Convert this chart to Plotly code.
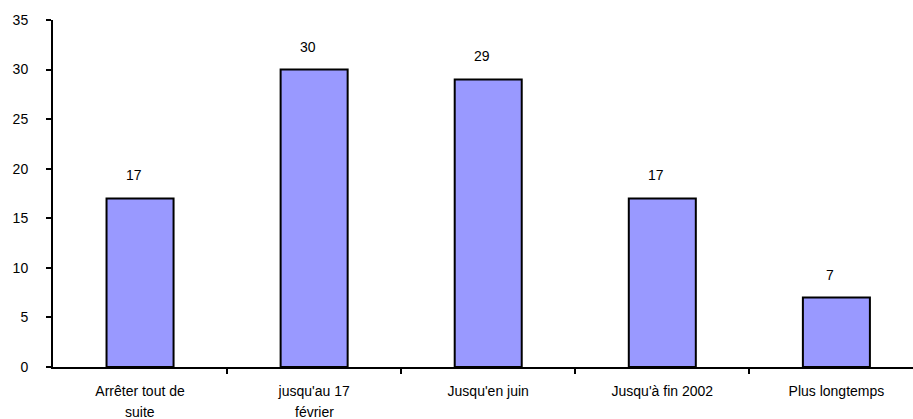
import plotly.graph_objects as go

categories = ["Arrêter tout de", "jusqu'au 17", "Jusqu'en juin", "Jusqu'à fin 2002", "Plus longtemps"]
second_lines = ["suite", "février", "", "", ""]
values = [17, 30, 29, 17, 7]
y_ticks = [0, 5, 10, 15, 20, 25, 30, 35]

FONT = "Liberation Sans, Arial, sans-serif"
FS = 14

fig = go.Figure()
fig.add_trace(go.Bar(
    x=list(range(len(categories))),
    y=values,
    width=0.385,
    marker=dict(color="#9999FF", line=dict(color="black", width=2)),
    hoverinfo="skip",
))

annotations = []
for i, v in enumerate(values):
    annotations.append(dict(
        x=i, y=v, xref="x", yref="y", text=str(v), showarrow=False,
        yshift=23, xshift=-6, font=dict(family=FONT, size=FS, color="black"),
    ))
for i, s in enumerate(second_lines):
    if s:
        annotations.append(dict(
            x=i, y=0, xref="x", yref="y", text=s, showarrow=False,
            yshift=-45, font=dict(family=FONT, size=FS, color="black"),
        ))

fig.update_layout(
    width=913, height=419,
    margin=dict(l=53, r=0, t=20, b=52, autoexpand=False),
    paper_bgcolor="white", plot_bgcolor="white",
    showlegend=False,
    annotations=annotations,
    xaxis=dict(
        range=[-0.5, 4.44],
        tickmode="array",
        tickvals=list(range(len(categories))),
        ticktext=categories,
        ticks="",
        showgrid=False, zeroline=False,
        showline=True, linecolor="black", linewidth=2,
        tickfont=dict(family=FONT, size=FS, color="black"),
        ticklabelstandoff=10,
        fixedrange=True,
    ),
    yaxis=dict(
        range=[0, 35],
        tickmode="array", tickvals=y_ticks,
        ticks="outside", ticklen=5, tickwidth=2, tickcolor="black",
        showgrid=False, zeroline=False,
        showline=True, linecolor="black", linewidth=2,
        tickfont=dict(family=FONT, size=FS, color="black"),
        ticklabelstandoff=15,
        fixedrange=True,
    ),
)

fig.update_xaxes(minor=dict(
    tickmode="array", tickvals=[0.5, 1.5, 2.5, 3.5],
    ticks="outside", ticklen=5, tickwidth=2, tickcolor="black", showgrid=False,
))

fig.write_html(
    "out.html",
    config={"displayModeBar": False},
    post_script="document.body.style.margin='0';document.body.style.overflow='hidden';",
)
